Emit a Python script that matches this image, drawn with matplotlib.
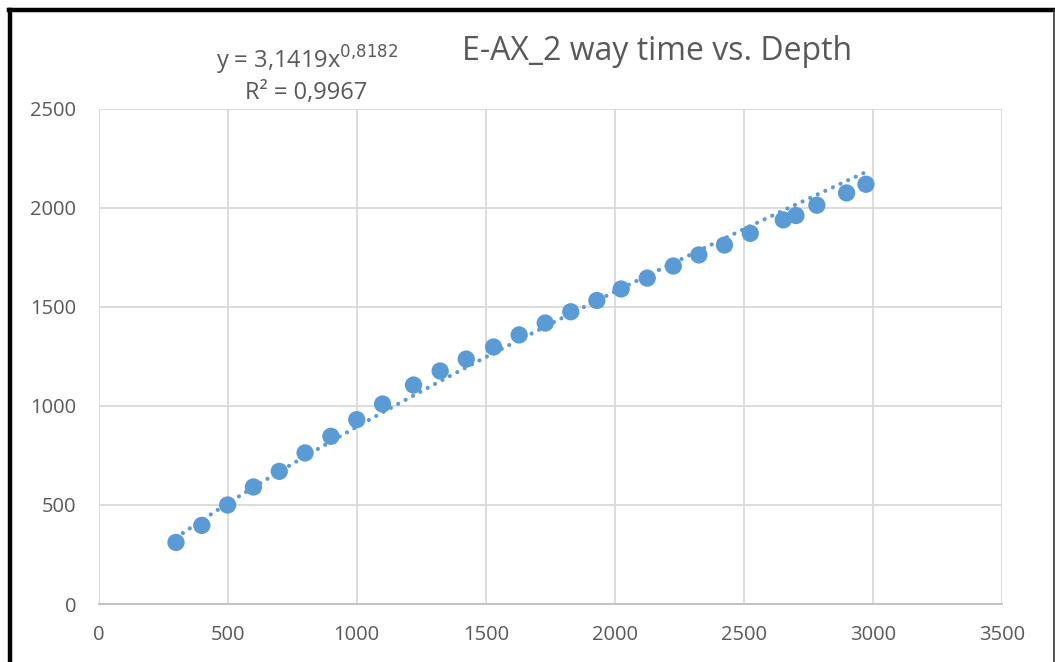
import matplotlib
matplotlib.use("Agg")
import matplotlib.pyplot as plt
from matplotlib.lines import Line2D
import numpy as np

# depth (x) vs 2-way time (y)
depth = [300, 400, 500, 600, 700, 800, 900, 1000, 1100, 1220, 1323, 1424,
         1530, 1629, 1730, 1829, 1930, 2024, 2125, 2226, 2325, 2424, 2524,
         2652, 2701, 2782, 2897, 2972]
twt = [311, 397, 500, 591, 670, 763, 847, 931, 1010, 1106, 1177, 1237,
       1298, 1359, 1419, 1476, 1533, 1591, 1646, 1707, 1763, 1813, 1872,
       1940, 1962, 2014, 2076, 2120]

# power trendline reported by Excel
coef_a = 3.1419
coef_b = 0.8182
r2 = 0.9967

title = "E-AX_2 way time vs. Depth"
blue = "#5B9BD5"
grey_txt = "#595959"

plt.rcParams["font.family"] = ["Open Sans", "DejaVu Sans"]

W, H = 1055, 662
fig = plt.figure(figsize=(W / 100, H / 100), dpi=100)
ax = fig.add_axes([98.5 / W, 58 / H, 903.8 / W, 495 / H])

x_fit = np.linspace(min(depth), max(depth), 200)
y_fit = coef_a * x_fit ** coef_b
ax.plot(x_fit, y_fit, color=blue, linewidth=3.0, linestyle=(0, (0.01, 2.0)),
        dash_capstyle="round", zorder=2)
ax.scatter(depth, twt, s=155, color=blue, edgecolors="none", zorder=3)

ax.set_xlim(0, 3500)
ax.set_ylim(0, 2500)
ax.set_xticks(range(0, 3501, 500))
ax.set_yticks(range(0, 2501, 500))
ax.grid(True, color="#D9D9D9", linewidth=1.3)
ax.set_axisbelow(True)
for side in ["top", "right", "left"]:
    ax.spines[side].set_visible(False)
ax.spines["bottom"].set_color("#BFBFBF")
ax.spines["bottom"].set_linewidth(1.3)
ax.tick_params(length=0, labelsize=14.5, labelcolor=grey_txt, pad=15)
ax.tick_params(axis="y", pad=16)

fig.text(657 / W, 1 - 51 / H, title, fontsize=23, color=grey_txt,
         ha="center", va="center")
fig.text(307 / W, 1 - 60 / H, "y = 3,1419x$^{0{,}8182}$",
         fontsize=17, color=grey_txt, ha="center", va="center")
fig.text(306 / W, 1 - 93 / H, "R² = 0,9967", fontsize=17, color=grey_txt,
         ha="center", va="center")

# outer chart frame (cropped at the bottom)
fig.add_artist(Line2D([10 / W, 10 / W], [0, 1 - 10 / H], transform=fig.transFigure,
                      color="black", linewidth=3.2))
fig.add_artist(Line2D([8.5 / W, 1054 / W], [1 - 10 / H, 1 - 10 / H],
                      transform=fig.transFigure, color="black", linewidth=3.2))
fig.add_artist(Line2D([1053.5 / W, 1053.5 / W], [0, 1 - 10 / H],
                      transform=fig.transFigure, color="#333333", linewidth=1.2))

fig.savefig("out.png", dpi=100)
